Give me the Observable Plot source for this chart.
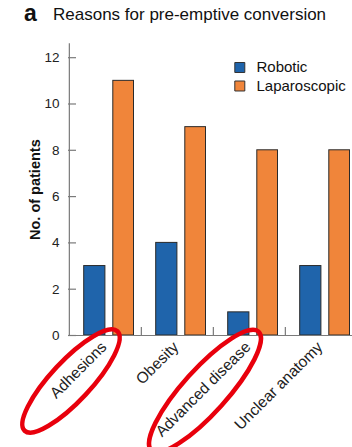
<!DOCTYPE html>
<html>
<head>
<meta charset="utf-8">
<script src="https://cdn.jsdelivr.net/npm/d3@7"></script>
<script src="https://cdn.jsdelivr.net/npm/@observablehq/plot@0.6"></script>
<style>
  html, body { margin: 0; padding: 0; background: #fff; }
  body { width: 352px; font-family: "Liberation Sans", Arial, Helvetica, sans-serif; }
  #title { position: relative; height: 30px; color: #111; }
  #title .panel { position: absolute; left: 24px; top: 0px; font-size: 23px; font-weight: bold; line-height: 26px; }
  #title .text { position: absolute; left: 53px; top: 4px; font-size: 17px; line-height: 22px; }
  #chart svg { display: block; overflow: visible; }
</style>
</head>
<body>
<div id="title"><span class="panel">a</span><span class="text">Reasons for pre-emptive conversion</span></div>
<div id="chart"></div>
<script>
const categories = ["Adhesions", "Obesity", "Advanced disease", "Unclear anatomy"];
const robotic = [3, 4, 1, 3];
const laparoscopic = [11, 9, 8, 8];
const seriesNames = ["Robotic", "Laparoscopic"];
const seriesColors = ["#1f64ab", "#f0853a"];
const yTicks = [0, 2, 4, 6, 8, 10, 12];
const yLabel = "No. of patients";
const highlighted = ["Adhesions", "Advanced disease"];

const rows = categories.flatMap((c, i) => [
  {category: c, series: seriesNames[0], value: robotic[i]},
  {category: c, series: seriesNames[1], value: laparoscopic[i]}
]);

const W = 352, H = 417;
const mL = 68, mT = 13.3, mB = 112;
const xRange = [68, 357.2];
const bw = (xRange[1] - xRange[0]) / categories.length;
const frameH = H - mT - mB;
const axisColor = "#7a7a7a";
const font = "'Liberation Sans', Arial, Helvetica, sans-serif";

// bar placement inside each category band (pixels)
const barInsets = {
  Robotic: {left: 14.7, right: bw - 14.7 - 21.5},
  Laparoscopic: {left: 43.8, right: bw - 43.8 - 21}
};

const legendMarks = seriesNames.flatMap((s, i) => [
  Plot.dot([s], {x: null, y: null, frameAnchor: "top-left", dx: 171.3, dy: 23.7 + i * 18.5,
    symbol: "square", r: 5.64, fill: seriesColors[i], stroke: "#333", strokeWidth: 1}),
  Plot.text([s], {x: null, y: null, text: d => d, frameAnchor: "top-left", dx: 188, dy: 23.7 + i * 18.5,
    textAnchor: "start", lineAnchor: "middle", fontSize: 15, fill: "#111"})
]);

const chart = Plot.plot({
  width: W,
  height: H,
  marginLeft: mL,
  marginRight: 0,
  marginTop: mT,
  marginBottom: mB,
  style: {fontFamily: font, background: "white", color: "#222"},
  x: {domain: categories, range: xRange, padding: 0},
  y: {domain: [0, 12.6]},
  color: {domain: seriesNames, range: seriesColors},
  marks: [
    ...seriesNames.map(s => Plot.barY(rows.filter(d => d.series === s), {
      x: "category", y: "value", fill: "series",
      stroke: "#2a2a2a", strokeWidth: 1,
      insetLeft: barInsets[s].left, insetRight: barInsets[s].right
    })),
    // left axis line
    Plot.ruleX([categories[0]], {x: d => d, dx: -bw / 2, stroke: axisColor, strokeWidth: 1.2}),
    // baseline
    Plot.ruleY([0], {stroke: axisColor, strokeWidth: 1.2}),
    // inward y ticks
    Plot.tickY(yTicks, {y: d => d, insetRight: W - mL - 8, stroke: axisColor, strokeWidth: 1.2}),
    // short separators between category groups
    Plot.ruleX(categories.slice(1), {x: d => d, dx: -bw / 2, insetTop: frameH - 8, stroke: axisColor, strokeWidth: 1.2}),
    Plot.axisY(yTicks, {tickSize: 0, tickPadding: 9, fontSize: 13.5, label: null, fill: "#222"}),
    Plot.axisX({tickSize: 0, tickPadding: 7, tickRotate: -45, dx: -1.5, dy: 2, fontSize: 15.5, label: null, fill: "#222"}),
    Plot.text([yLabel], {x: null, y: null, text: d => d, frameAnchor: "left", textAnchor: "middle",
      rotate: -90, dx: -33, fontWeight: "bold", fontSize: 14.5, fill: "#111"}),
    ...legendMarks
  ]
});

// hand-drawn style highlight rings around selected category labels
const xs = chart.scale("x");
const svg = d3.select(chart);
const ringSpec = {
  "Adhesions": {dx: -34, cy: 351, a: 68, b: 20, angle: -47},
  "Advanced disease": {dx: -44, cy: 361, a: 80, b: 22, angle: -48}
};
highlighted.forEach(c => {
  const r = ringSpec[c];
  const cx = xs.apply(c) + xs.bandwidth / 2 + r.dx;
  svg.append("ellipse")
    .attr("cx", 0).attr("cy", 0).attr("rx", r.a).attr("ry", r.b)
    .attr("transform", `translate(${cx},${r.cy}) rotate(${r.angle})`)
    .attr("fill", "none").attr("stroke", "#e8000c").attr("stroke-width", 4.5);
});

document.getElementById("chart").append(chart);
</script>
</body>
</html>
